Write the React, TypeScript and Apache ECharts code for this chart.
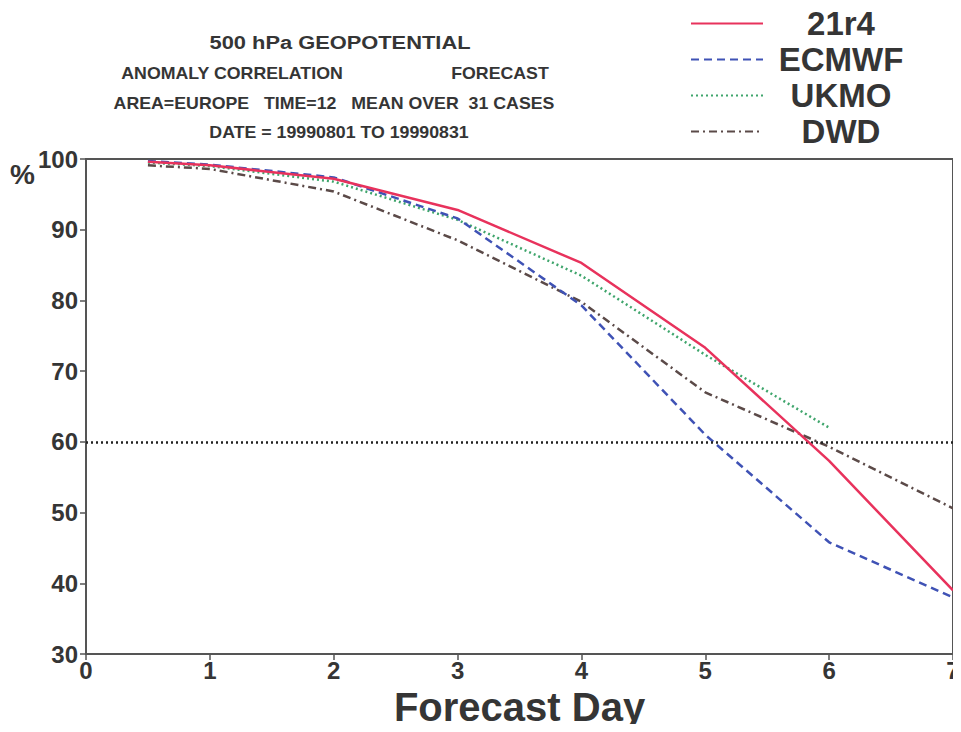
import React, { useEffect, useRef } from "react";
import * as echarts from "echarts";

// Forecast days at which scores are plotted
const days = [0.5, 1, 2, 3, 4, 5, 6, 7];

// Anomaly correlation (%) for each forecast system
const r21r4 = [99.6, 99.1, 97.2, 92.8, 85.3, 73.3, 57.3, 39.0];
const ecmwf = [99.7, 99.2, 97.4, 91.6, 79.3, 61.0, 45.8, 38.0];
const ukmo = [99.5, 99.0, 96.8, 91.4, 83.5, 72.3, 62.0];
const dwd = [99.1, 98.6, 95.4, 88.5, 79.8, 67.0, 59.3, 50.6];

const seriesNames = ["21r4", "ECMWF", "UKMO", "DWD"];
const usefulThreshold = 60;

const titleLines = [
  "500 hPa GEOPOTENTIAL",
  "ANOMALY CORRELATION",
  "FORECAST",
  "AREA=EUROPE   TIME=12   MEAN OVER  31 CASES",
  "DATE = 19990801 TO 19990831",
];

const FONT = "'Liberation Sans', Arial, Helvetica, sans-serif";
const INK = "#353535";

function pairs(values: number[]) {
  return values.map((v, i) => [days[i], v]);
}

export default function App() {
  const ref = useRef<HTMLDivElement>(null);

  useEffect(() => {
    if (!ref.current) return;
    const chart = echarts.init(ref.current, undefined, { renderer: "svg" });

    const titleText = (
      text: string,
      x: number,
      y: number,
      size: number,
      sx: number
    ) => ({
      type: "text",
      x,
      y,
      scaleX: sx,
      style: {
        text,
        fontSize: size,
        fontWeight: "bold",
        fontFamily: FONT,
        fill: INK,
        textAlign: "center",
        textVerticalAlign: "middle",
      },
    });

    chart.setOption({
      animation: false,
      backgroundColor: "#ffffff",
      grid: {
        left: 86,
        right: 8,
        top: 159,
        bottom: 78,
        outerBoundsMode: "none",
        containLabel: false,
        show: true,
        borderColor: "#555",
        borderWidth: 2,
        backgroundColor: "transparent",
      },
      legend: {
        orient: "vertical",
        left: 685,
        top: 2,
        itemWidth: 72,
        itemHeight: 14,
        itemGap: 3,
        data: seriesNames,
        itemStyle: { opacity: 0 },
        formatter: (name: string) => `{n|${name}}`,
        textStyle: {
          rich: {
            n: {
              width: 146,
              align: "center",
              fontSize: 33,
              lineHeight: 30,
              fontWeight: "bold",
              fontFamily: FONT,
              color: INK,
            },
          },
        },
      },
      graphic: [
        titleText(titleLines[0], 340, 42, 19, 1.15),
        titleText(titleLines[1], 232, 74, 16, 1.11),
        titleText(titleLines[2], 500, 74, 16, 1.11),
        titleText(titleLines[3], 334, 104, 16, 1.11),
        titleText(titleLines[4], 339, 133, 16, 1.11),
        {
          type: "text",
          x: 10,
          y: 160,
          style: {
            text: "%",
            fontSize: 28,
            fontWeight: "bold",
            fontFamily: FONT,
            fill: INK,
          },
        },
      ],
      xAxis: {
        type: "value",
        min: 0,
        max: 7,
        interval: 1,
        name: "Forecast Day",
        nameLocation: "middle",
        nameGap: 32,
        nameTextStyle: {
          fontSize: 40,
          fontWeight: "bold",
          fontFamily: FONT,
          color: INK,
        },
        axisLine: { lineStyle: { color: "#555", width: 2 } },
        axisTick: { length: 6, lineStyle: { color: "#555", width: 1.5 } },
        axisLabel: {
          margin: 4,
          fontSize: 24,
          fontWeight: "bold",
          fontFamily: FONT,
          color: INK,
        },
        splitLine: { show: false },
      },
      yAxis: {
        type: "value",
        min: 30,
        max: 100,
        interval: 10,
        axisLine: { show: true, lineStyle: { color: "#555", width: 2 } },
        axisTick: { show: true, length: 6, lineStyle: { color: "#555", width: 1.5 } },
        axisLabel: {
          margin: 8,
          fontSize: 24,
          fontWeight: "bold",
          fontFamily: FONT,
          color: INK,
        },
        splitLine: { show: false },
      },
      series: [
        {
          name: seriesNames[0],
          type: "line",
          data: pairs(r21r4),
          symbol: "none",
          color: "#e8325c",
          lineStyle: { color: "#e8325c", width: 2.5, type: "solid" },
          z: 5,
          markLine: {
            silent: true,
            symbol: "none",
            label: { show: false },
            lineStyle: { color: "#222", width: 2.5, type: [2, 3] },
            data: [{ yAxis: usefulThreshold }],
          },
        },
        {
          name: seriesNames[1],
          type: "line",
          data: pairs(ecmwf),
          symbol: "none",
          color: "#3f52b5",
          lineStyle: { color: "#3f52b5", width: 2.5, type: [8, 5] },
          z: 4,
        },
        {
          name: seriesNames[2],
          type: "line",
          data: pairs(ukmo),
          symbol: "none",
          color: "#3fa56c",
          lineStyle: { color: "#3fa56c", width: 2.5, type: [2, 3] },
          z: 3,
        },
        {
          name: seriesNames[3],
          type: "line",
          data: pairs(dwd),
          symbol: "none",
          color: "#5b4a48",
          lineStyle: { color: "#5b4a48", width: 2.5, type: [8, 4, 2, 4] },
          z: 2,
        },
      ],
    });

    return () => chart.dispose();
  }, []);

  return <div ref={ref} style={{ width: 961, height: 732, margin: -8 }} />;
}
